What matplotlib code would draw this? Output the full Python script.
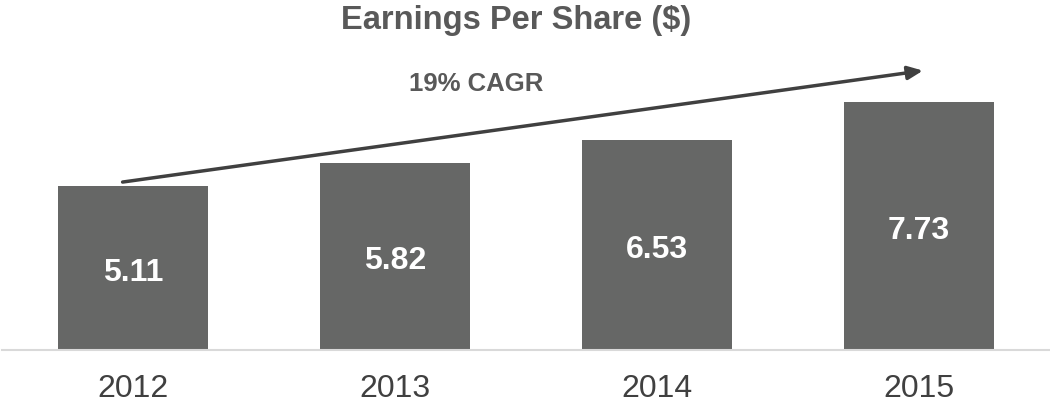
import matplotlib
matplotlib.use("Agg")
import matplotlib.pyplot as plt

years = ["2012", "2013", "2014", "2015"]
eps = [5.11, 5.82, 6.53, 7.73]
cagr_label = "19% CAGR"
title = "Earnings Per Share ($)"

plt.rcParams["font.family"] = ["Liberation Sans", "DejaVu Sans"]

fig = plt.figure(figsize=(10.5, 4.03), dpi=100)
ax = fig.add_axes([0.002, 53 / 403, 0.998, 289 / 403])

x = range(len(years))
bars = ax.bar(x, eps, width=0.571, color="#666766")
for b, v in zip(bars, eps):
    ax.annotate(f"{v:.2f}", xy=(b.get_x() + b.get_width() / 2, v / 2),
                xytext=(0, -3.5), textcoords="offset points",
                ha="center", va="center", color="white",
                fontsize=23, fontweight="bold")

ax.set_xlim(-0.5, 3.5)
ax.set_ylim(0, 9)
ax.set_xticks(list(x))
ax.set_xticklabels(years, fontsize=23, color="#404040")
ax.tick_params(axis="x", length=0, pad=17)
ax.set_yticks([])
for s in ["top", "left", "right"]:
    ax.spines[s].set_visible(False)
ax.spines["bottom"].set_color("#d9d9d9")
ax.spines["bottom"].set_linewidth(1.5)

# growth arrow
ax.annotate("", xy=(3.015, 8.7), xytext=(-0.04, 5.23),
            arrowprops=dict(arrowstyle="-|>,head_length=0.9,head_width=0.4",
                            color="#404040", lw=2.5, shrinkA=0, shrinkB=0),
            annotation_clip=False)
ax.text(1.31, 8.29, cagr_label, ha="center", va="center",
        fontsize=18.5, fontweight="bold", color="#595959")

fig.text(516 / 1050, 1 - 21 / 403, title, ha="center", va="center",
         fontsize=23.5, fontweight="bold", color="#595959")

fig.savefig("out.png", dpi=100)
